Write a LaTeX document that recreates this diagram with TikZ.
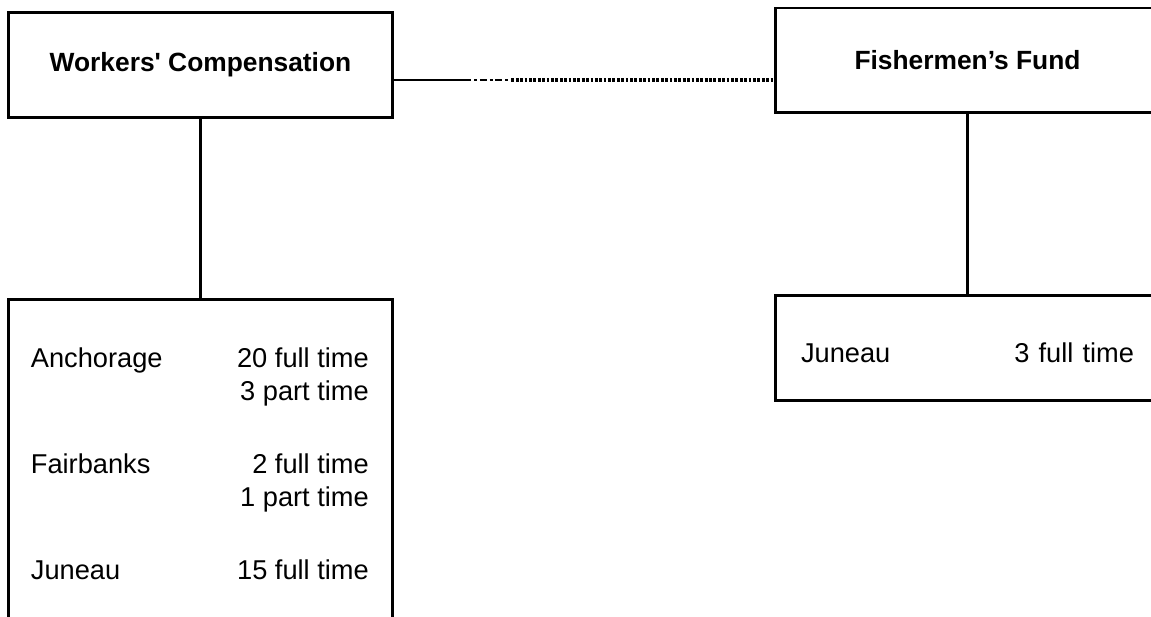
\documentclass[tikz,border=0pt]{standalone}
\usepackage{fontspec}
\setmainfont{Liberation Sans}
\usetikzlibrary{positioning}

\begin{document}
\begin{tikzpicture}[x=0.02cm,y=-0.02cm,
  head/.style={draw,line width=1.7pt,font=\fontsize{15}{18}\selectfont\bfseries,
    minimum width=7.7cm,minimum height=2.1cm},
  staff/.style={draw,line width=1.7pt,minimum width=7.7cm,
    font=\fontsize{15.5}{18.8}\selectfont},
  link/.style={line width=1.2pt}
]
  \clip (0,0) rectangle (1151,617);
  % Workers' Compensation
  \node[head] (wc) at (200.5,65) {Workers\textquotesingle\ Compensation};
  \node[staff,minimum height=7.3cm,below=3.58cm of wc] (wcloc) {};
  \node[anchor=north west,inner sep=0pt,font=\fontsize{15.5}{18.8}\selectfont]
    (wcrows) at ([xshift=0.48cm,yshift=-0.92cm]wcloc.north west) {%
    \begin{tabular*}{6.76cm}{@{}l@{\extracolsep{\fill}}r@{}}
      Anchorage & 20 full time\\
                & 3 part time\\[0.8cm]
      Fairbanks & 2 full time\\
                & 1 part time\\[0.8cm]
      Juneau    & 15 full time
    \end{tabular*}};
  % Fishermen's Fund
  \node[head] (ff) at (967.5,60.5) {Fishermen's Fund};
  \node[staff,minimum height=2.1cm,text width=6.66cm,text height=15.5pt,
    text depth=0pt,below=3.6cm of ff] (ffloc) {Juneau\hfill 3 full time};
  % connectors
  \draw[link] (wc.south) -- (wcloc.north);
  \draw[link] (ff.south) -- (ffloc.north);
  \coordinate (brk1) at ([xshift=1.4cm,yshift=-0.3cm]wc.east);
  \coordinate (brk2) at ([xshift=2.34cm,yshift=-0.3cm]wc.east);
  \draw[link] ([yshift=-0.3cm]wc.east) -- (brk1);
  \draw[link,dash pattern=on 4pt off 1.6pt on 1.6pt off 1.6pt]
    (brk1) -- (brk2);
  \draw[link,line width=2pt,dash pattern=on 1.6pt off 0.9pt]
    (brk2) -- (brk2 -| ff.west);
\end{tikzpicture}
\end{document}
